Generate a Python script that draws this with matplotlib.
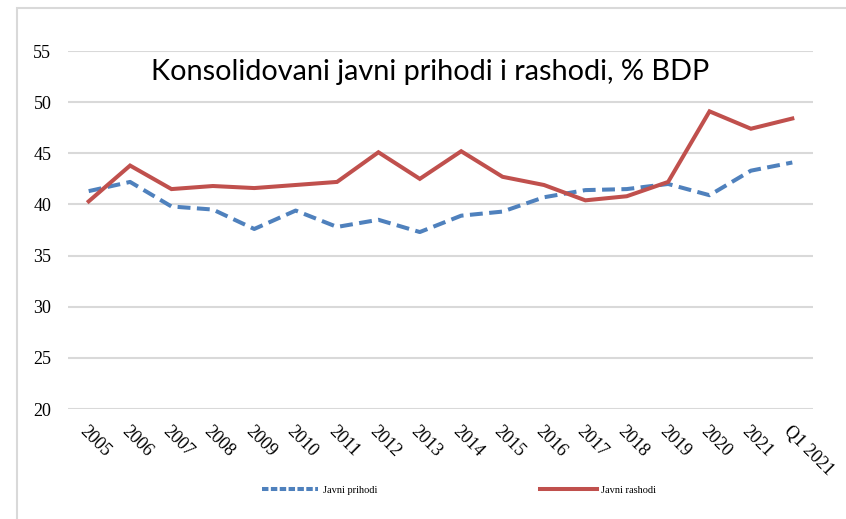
import matplotlib
matplotlib.use("Agg")
import matplotlib.pyplot as plt
from matplotlib.patches import Rectangle
from matplotlib.lines import Line2D

categories = ["2005", "2006", "2007", "2008", "2009", "2010", "2011", "2012", "2013",
              "2014", "2015", "2016", "2017", "2018", "2019", "2020", "2021", "Q1 2021"]
prihodi = [41.3, 42.2, 39.8, 39.5, 37.6, 39.4, 37.8, 38.5, 37.3,
           38.9, 39.3, 40.7, 41.4, 41.5, 42.0, 40.9, 43.3, 44.1]
rashodi = [40.3, 43.8, 41.5, 41.8, 41.6, 41.9, 42.2, 45.1, 42.5,
           45.2, 42.7, 41.9, 40.4, 40.8, 42.2, 49.1, 47.4, 48.4]
yticks = [20, 25, 30, 35, 40, 45, 50, 55]
title = "Konsolidovani javni prihodi i rashodi, % BDP"

W, H = 846, 519
fig = plt.figure(figsize=(W / 100, H / 100), dpi=100)
fig.patch.set_facecolor("white")

# outer chart border
fig.add_artist(Rectangle((17 / W, -0.1), 1.2, 1 - 8 / H + 0.1, transform=fig.transFigure,
                         fill=False, edgecolor="#d9d9d9", linewidth=1.5, clip_on=False))

ax = fig.add_axes([68 / W, 1 - 409 / H, (813 - 68) / W, (409 - 51) / H])
x = list(range(len(categories)))

grid_c = "#d9d9d9"
for v in yticks:
    ax.axhline(v, color=grid_c, linewidth=1.5, zorder=0)

ax.plot(x, prihodi, color="#4F81BD", linewidth=2.9, dashes=(3.2, 1.6), zorder=3)
ax.plot(x, rashodi, color="#C0504D", linewidth=2.9, zorder=4, solid_joinstyle="miter")

ax.set_xlim(-0.5, len(categories) - 0.5)
ax.set_ylim(20, 55)
for s in ax.spines.values():
    s.set_visible(False)

serif = ["Liberation Serif", "DejaVu Serif"]
ax.set_yticks(yticks)
ax.set_yticklabels([str(v) for v in yticks], fontfamily=serif, fontsize=13)
ax.tick_params(axis="y", length=0, pad=12)
ax.set_xticks(x)
ax.set_xticklabels(categories, fontfamily=serif, fontsize=13, rotation=-45,
                   ha="left", va="top", rotation_mode="anchor")
ax.tick_params(axis="x", length=0, pad=10)

fig.text(430 / W, 1 - 72 / H, title, fontfamily=["Lato", "DejaVu Sans"], fontsize=20.8,
         ha="center", va="center")

handles = [Line2D([], [], color="#4F81BD", linewidth=2.9, dashes=(1.6, 0.6)),
           Line2D([], [], color="#C0504D", linewidth=2.9)]
leg = fig.legend(handles, ["Javni prihodi", "Javni rashodi"], loc="center",
                 bbox_to_anchor=(459 / W, 1 - 490 / H), ncol=2, frameon=False,
                 prop={"family": serif, "size": 7.5}, handlelength=5.4,
                 columnspacing=15.7, handletextpad=0.4)

fig.savefig("out.png", dpi=100, facecolor="white")
